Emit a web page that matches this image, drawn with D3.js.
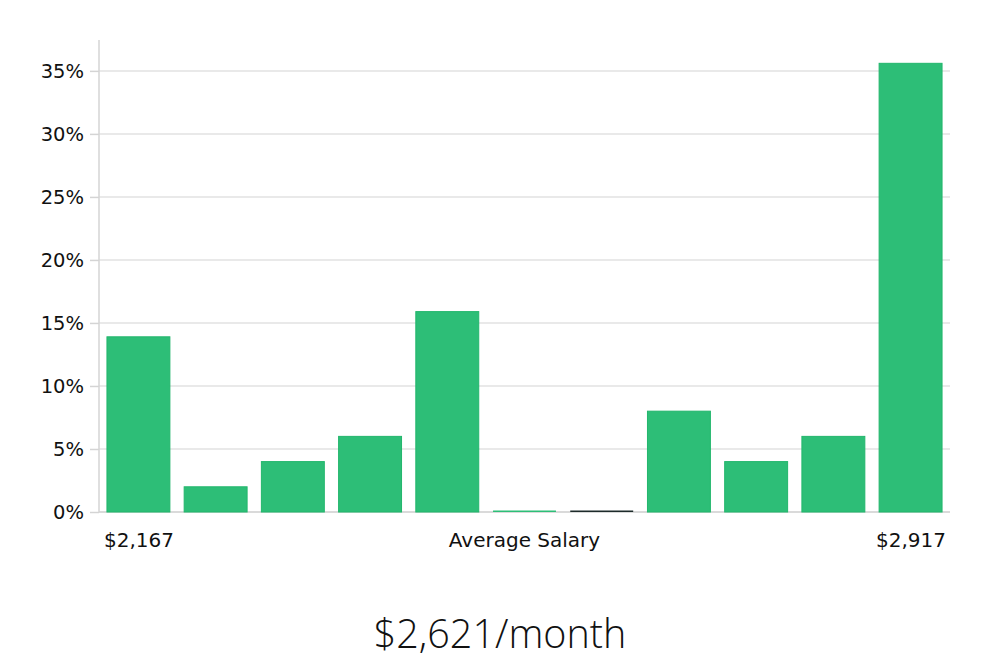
<!DOCTYPE html>
<html lang="en">
<head>
    <meta charset="UTF-8">
    <title>Average Salary</title>
    <script src="https://d3js.org/d3.v7.min.js"></script>
    <style>
        body {
            margin: 0;
            background: #fff;
        }
        text {
            font-family: "DejaVu Sans", sans-serif;
            fill: #111;
        }
        .title {
            font-family: "Open Sans", sans-serif;
            font-weight: 300;
        }
    </style>
</head>
<body>
    <svg width="1000" height="660"></svg>

    <script>
        // salary bins (11 buckets between min and max)
        let bins = ['b1', 'b2', 'b3', 'b4', 'b5', 'b6', 'b7', 'b8', 'b9', 'b10', 'b11'];
        let shares = [13.9, 2, 4, 6, 15.9, 0, 0, 8, 4, 6, 35.6];
        let yTicks = [0, 5, 10, 15, 20, 25, 30, 35];
        let minLabel = '$2,167';
        let maxLabel = '$2,917';
        let axisTitle = 'Average Salary';
        let headline = '$2,621/month';

        let svg = d3.select('svg');

        let plotLeft = 99, plotRight = 950, plotTop = 40, plotBottom = 512;

        let x = d3.scaleBand()
            .domain(bins)
            .range([plotLeft + 1, plotRight - 1])
            .paddingInner(0.185)
            .paddingOuter(0.09);

        let y = d3.scaleLinear()
            .domain([0, 37.45])
            .range([plotBottom, plotTop]);

        // grid lines
        svg.append('g')
            .selectAll('line').data(yTicks).enter().append('line')
            .attr('x1', plotLeft).attr('x2', plotRight)
            .attr('y1', d => y(d)).attr('y2', d => y(d))
            .style('stroke', '#e2e2e2')
            .style('stroke-width', 1.5);

        // y axis
        let yAxis = d3.axisLeft(y)
            .tickValues(yTicks)
            .tickSize(9)
            .tickPadding(6)
            .tickFormat(d => d + '%');

        let gy = svg.append('g')
            .attr('transform', 'translate(' + plotLeft + ' 0)')
            .call(yAxis);
        gy.select('.domain').remove();
        gy.selectAll('line').style('stroke', '#d4d4d4').style('stroke-width', 1.5);
        gy.selectAll('text')
            .style('font-family', '"DejaVu Sans", sans-serif')
            .style('font-size', '19.5px')
            .style('fill', '#111');

        svg.append('line')
            .attr('x1', plotLeft).attr('x2', plotLeft)
            .attr('y1', plotTop).attr('y2', plotBottom)
            .style('stroke', '#d4d4d4').style('stroke-width', 1.5);

        // bottom line
        svg.append('line')
            .attr('x1', plotLeft).attr('x2', plotRight)
            .attr('y1', plotBottom).attr('y2', plotBottom)
            .style('stroke', '#d4d4d4').style('stroke-width', 1.5);

        // bars (empty bins show as a thin line)
        svg.append('g')
            .selectAll('rect').data(shares).enter().append('rect')
            .attr('x', (d, i) => x(bins[i]))
            .attr('width', x.bandwidth())
            .attr('y', d => d > 0 ? y(d) : plotBottom - 1.5)
            .attr('height', d => d > 0 ? plotBottom - y(d) : 1.5)
            .style('fill', (d, i) => d > 0 ? '#2dbe77' : (i === 6 ? '#1d2b2a' : '#2dbe77'))
            .style('stroke', d => d > 0 ? '#22b66c' : 'none')
            .style('stroke-width', 1);

        // x labels
        svg.append('text')
            .attr('x', x(bins[0]) - 3).attr('y', 547)
            .style('font-size', '20px')
            .text(minLabel);

        svg.append('text')
            .attr('x', plotRight - 4).attr('y', 547)
            .attr('text-anchor', 'end')
            .style('font-size', '20px')
            .text(maxLabel);

        svg.append('text')
            .attr('x', (plotLeft + plotRight) / 2).attr('y', 547)
            .attr('text-anchor', 'middle')
            .style('font-size', '20px')
            .text(axisTitle);

        // headline
        svg.append('text')
            .attr('class', 'title')
            .attr('x', 500).attr('y', 648)
            .attr('text-anchor', 'middle')
            .style('font-size', '39.5px')
            .text(headline);
    </script>
</body>
</html>
